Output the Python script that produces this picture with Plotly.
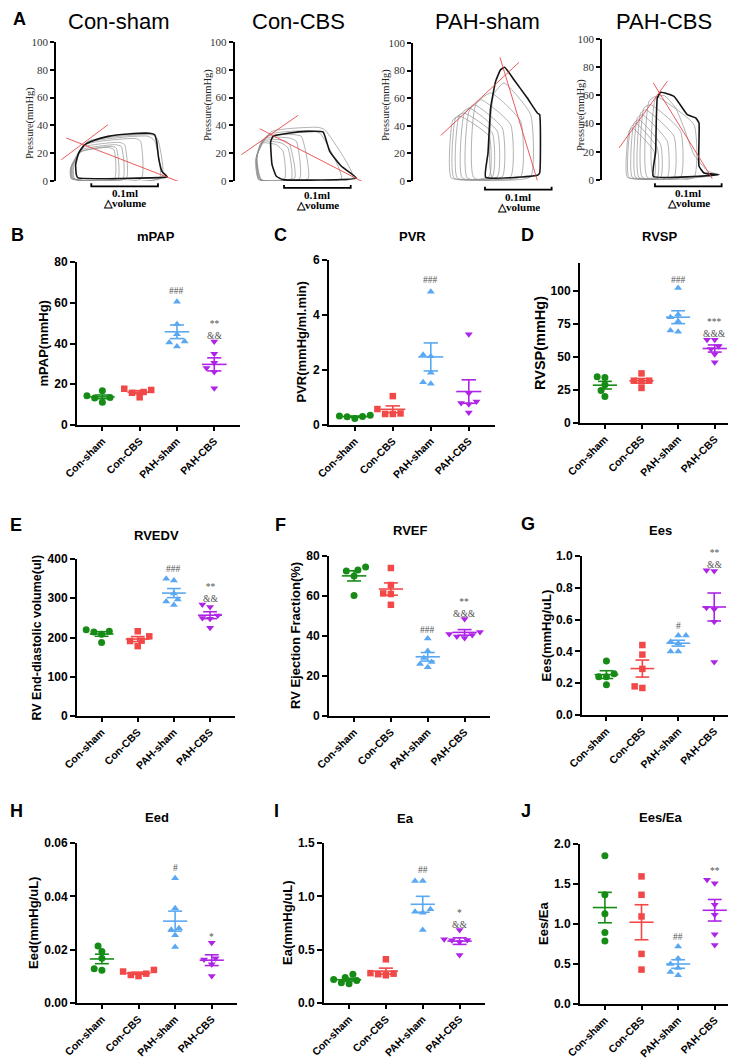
import numpy as np
import plotly.graph_objects as go

W, H = 736, 1058
SANS = "Liberation Sans, Arial, Helvetica, sans-serif"
SERIF = "Liberation Serif, Times New Roman, serif"

# ---------------- group definitions ----------------
GROUPS = ["Con-sham", "Con-CBS", "PAH-sham", "PAH-CBS"]
GROUP_COLORS = ["#168c16", "#f24848", "#5aa8f2", "#ae24e6"]
GROUP_SYMBOLS = ["circle", "square", "triangle-up", "triangle-down"]

# ---------------- panel B-J values (one list per group) ----------------
MPAP = [[14.3, 16.8, 13.5, 13.3, 11.2], [17.8, 16.2, 15.8, 17.2, 13.6],
        [60.5, 49.5, 44.5, 41.0, 40.5, 38.5], [41.0, 35.0, 30.5, 28.0, 26.0, 18.0]]
PVR = [[0.35, 0.33, 0.31, 0.30, 0.24], [1.05, 0.58, 0.42, 0.40, 0.40],
       [4.85, 2.55, 2.50, 1.90, 1.55, 1.50], [3.30, 1.15, 0.85, 0.80, 0.75, 0.45]]
RVSP = [[35, 34.5, 29, 24.5, 20], [37.5, 32, 31.5, 32, 26.5],
        [102, 82, 80, 77, 70, 69], [63, 63, 58, 56, 52, 46]]
RVEDV = [[220, 216, 214, 208, 187], [216, 203, 192, 191, 178],
         [350, 345, 312, 297, 292, 283], [284, 278, 256, 250, 248, 225]]
RVEF = [[74.5, 73, 72.5, 70, 60.3], [74, 65.5, 61.3, 61, 55.6],
        [38.7, 32.5, 29, 27, 26, 24.4], [48.5, 42, 41, 40.5, 39.8, 39]]
EES = [[0.34, 0.26, 0.24, 0.24, 0.19], [0.44, 0.38, 0.29, 0.18, 0.17],
       [0.50, 0.50, 0.46, 0.45, 0.40, 0.40], [0.905, 0.91, 0.675, 0.665, 0.587, 0.333]]
EED = [[0.0214, 0.0193, 0.0168, 0.0128, 0.0123], [0.0124, 0.0118, 0.0110, 0.0105, 0.0101],
       [0.0468, 0.0355, 0.0280, 0.0275, 0.0254, 0.0210], [0.0226, 0.0168, 0.0163, 0.0145, 0.0101]]
EA = [[0.27, 0.24, 0.22, 0.21, 0.19, 0.18], [0.41, 0.28, 0.275, 0.27, 0.26],
      [1.144, 1.144, 0.878, 0.856, 0.847, 0.684], [0.684, 0.597, 0.59, 0.5875, 0.572, 0.45]]
EES_EA = [[1.854, 1.365, 1.127, 0.893, 0.789], [1.595, 1.365, 1.094, 0.626, 0.43],
          [0.72, 0.57, 0.50, 0.45, 0.40, 0.36], [1.51, 1.553, 1.24, 1.115, 0.873, 0.739]]

# significance marks: (group index, stacked text lines, level of the centre of the block)
MPAP_SIG = [(2, ["###"], 65.7), (3, ["**", "&&"], 46.6)]
PVR_SIG = [(2, ["###"], 5.26)]
RVSP_SIG = [(2, ["###"], 108), (3, ["***", "&&&"], 71.5)]
RVEDV_SIG = [(2, ["###"], 374.6), (3, ["**", "&&"], 313)]
RVEF_SIG = [(2, ["###"], 43.2), (3, ["**", "&&&"], 54.0)]
EES_SIG = [(2, ["#"], 0.56), (3, ["**", "&&"], 0.984)]
EED_SIG = [(2, ["#"], 0.0507), (3, ["*"], 0.0247)]
EA_SIG = [(2, ["##"], 1.244), (3, ["*", "&&"], 0.786)]
EES_EA_SIG = [(2, ["##"], 0.843), (3, ["**"], 1.658)]

# ---------------- panel A: pressure-volume loops (volume ul, pressure mmHg) ----------------
PRESSURE_TICKS = [0, 20, 40, 60, 80, 100]
SCALE_BAR_UL = 100  # 0.1 ml

CON_SHAM_DARK = [(32.5, 2.2), (162.5, 2.6), (166.5, 2.9), (158.5, 7), (153.5, 16.5), (150.5, 28.5),
                 (147.5, 33.3), (140, 34.3), (107.5, 33.8), (77.5, 32.1), (55, 29), (41.5, 25.7),
                 (33.5, 20.1), (29, 11.8), (30, 4.6)]
CON_SHAM_GRAY = [
    [(27.5, 1.7), (158.5, 2.2), (152.5, 29.5), (145, 33.1), (47.5, 28.5), (26.5, 11.8)],
    [(26.5, 1.7), (155, 2.2), (147.5, 28.8), (137.5, 32.2), (45, 27.3), (25, 11.8)],
    [(25, 1.7), (127.5, 1.7), (126.5, 28.5), (120, 30.5), (42.5, 26.1), (23.5, 10.6)],
    [(25, 1.7), (105, 1.7), (102.5, 26.1), (95, 27.8), (40, 24.2), (22.5, 10.6)],
    [(23.5, 1.7), (100, 1.7), (97.5, 24.9), (87.5, 26.1), (38.5, 22.5), (22.5, 9.8)],
    [(22.5, 1.7), (92.5, 1.7), (90, 23.7), (82.5, 24.9), (37.5, 21.3), (21.5, 9.4)],
    [(22.5, 1.7), (87.5, 1.7), (86.5, 22.5), (77.5, 24.2), (36.5, 20.9), (21.5, 9.1)],
]
CON_SHAM_ESPVR = [(7.5, 15.3), (77.5, 40.5)]
CON_SHAM_EA = [(15, 30.9), (185, -0.7)]

CON_CBS_DARK = [(72.5, 1), (182.5, 2.2), (160, 10.6), (142.5, 21.3), (132.5, 35.3), (110, 35.7),
                (80, 34.3), (57.5, 32.1), (54, 28.5), (56, 11.8), (62.5, 3.4)]
CON_CBS_GRAY = [
    [(40, 1), (177.5, 2.2), (135, 36.9), (125, 38.6), (55, 35.5), (34, 19)],
    [(40, 1), (160, 1.7), (127.5, 34.5), (110, 36.2), (50, 33.3), (33, 17.7)],
    [(39, 1), (110, 1.7), (100, 32.1), (90, 33.3), (47.5, 32.1), (32.5, 16.5)],
    [(37.5, 1), (97.5, 1.7), (92.5, 28.5), (82.5, 30.9), (45, 30.9), (32.5, 16.5)],
    [(37.5, 1), (90, 2.2), (82.5, 26.1), (75, 29), (42.5, 29.7), (32.5, 15.3)],
    [(36, 1), (85, 1.7), (80, 23.7), (70, 27.3), (41, 28.5), (32.5, 15.3)],
    [(36, 1), (75, 1.7), (72.5, 21.3), (62.5, 26.1), (40, 27.3), (31, 14.1)],
]
CON_CBS_ESPVR = [(10, 18.9), (95, 47.2)]
CON_CBS_EA = [(37.5, 37.6), (192.5, -0.7)]

PAH_SHAM_DARK = [(108.5, 2.7), (186, 4.1), (189.5, 5.8), (189.5, 48.1), (186, 49.3), (171, 60.1),
                 (151, 73.4), (137, 82.4), (131, 80.7), (123.5, 72.2), (116, 52.9), (112, 20)]
PAH_SHAM_GRAY = [
    [(118.5, 2.2), (176, 3.1), (176, 48.1), (136, 71), (120.5, 62.6)],
    [(91, 2.2), (161, 3.1), (161, 43.2), (116, 63.8), (93.5, 55.3)],
    [(81, 2.2), (146, 3.1), (146, 40.8), (101, 58.9), (83.5, 50.5)],
    [(73.5, 2.2), (133.5, 3.1), (133.5, 38.4), (91, 55.3), (76, 48.1)],
    [(66, 2.2), (126, 3.1), (126, 36), (83.5, 52.9), (68.5, 46.9)],
    [(61, 2.2), (118.5, 3.1), (118.5, 34.8), (76, 49.3), (63.5, 45.7)],
    [(57, 2.2), (113.5, 3.1), (113.5, 32.4), (70, 46.9), (59.5, 44.4)],
]
PAH_SHAM_ESPVR = [(41, 32.9), (158.5, 86)]
PAH_SHAM_EA = [(130, 89.6), (186, 0.5)]

PAH_CBS_DARK = [(76.5, 2.6), (175, 3.8), (152.5, 5), (145, 10), (145, 40.4), (140, 44), (127.5, 46.3),
                (107.5, 59.3), (87.5, 62.2), (82.5, 58.2), (80, 20)]
PAH_CBS_GRAY = [
    [(77.5, 1.9), (172.5, 3.8), (157.5, 6.6), (137.5, 18), (122.5, 36.9), (110, 51.1), (92.5, 60), (80, 58.2)],
    [(67.5, 1.9), (137.5, 1.9), (137.5, 39.2), (80, 59.3), (70, 55.8)],
    [(60, 1.9), (117.5, 1.9), (117.5, 34.5), (72.5, 53.4), (62.5, 51.1)],
    [(55, 1.9), (107.5, 1.9), (107.5, 31), (65, 49.9), (57.5, 47.5)],
    [(50, 1.9), (97.5, 1.9), (97.5, 27.4), (60, 46.3), (52.5, 44)],
    [(45, 1.9), (87.5, 1.9), (87.5, 25.1), (55, 42.8), (47.5, 40.4)],
    [(40, 1.9), (82.5, 1.9), (82.5, 22.7), (50, 40.4), (42.5, 36.9)],
    [(37.5, 1.9), (77.5, 1.9), (77.5, 20.3), (45, 36.9), (40, 34.5)],
]
PAH_CBS_ESPVR = [(25, 22.7), (97.5, 70)]
PAH_CBS_EA = [(76.5, 68.8), (165, 0.9)]

# ---------------- figure scaffolding ----------------
fig = go.Figure()
layout = dict(template="none", width=W, height=H,
              margin=dict(l=0, r=0, t=0, b=0, pad=0, autoexpand=False),
              paper_bgcolor="white", plot_bgcolor="rgba(0,0,0,0)", showlegend=False, hovermode=False)
annotations, shapes = [], []
ax_n = [0]


def add_axes(xdom, ydom, xkw, ykw):
    ax_n[0] += 1
    n = ax_n[0]
    s = "" if n == 1 else str(n)
    layout["xaxis" + s] = dict(domain=[xdom[0] / W, xdom[1] / W], anchor="y" + s, fixedrange=True,
                               automargin=False, **xkw)
    layout["yaxis" + s] = dict(domain=[1 - ydom[1] / H, 1 - ydom[0] / H], anchor="x" + s, fixedrange=True,
                               automargin=False, **ykw)
    return "x" + s, "y" + s


def ann_px(text, x, y, size, family=SANS, bold=False, color="black", angle=0, xanchor="center", yanchor="middle"):
    annotations.append(dict(text=f"<b>{text}</b>" if bold else text, x=x / W, y=1 - y / H,
                            xref="paper", yref="paper", showarrow=False, textangle=angle,
                            font=dict(family=family, size=size, color=color),
                            xanchor=xanchor, yanchor=yanchor))


# ---------------- panel A ----------------
PV_VRANGE = 210
pv_specs = [
    dict(title="Con-sham", tx=110, xdom=(48.3, 188.3), ydom=(34, 173), ytx=22, yty=115,
         dark=CON_SHAM_DARK, gray=CON_SHAM_GRAY, espvr=CON_SHAM_ESPVR, ea=CON_SHAM_EA, bar=(52.5, -3.8)),
    dict(title="Con-CBS", tx=290, xdom=(226.7, 366.7), ydom=(34, 173), ytx=200, yty=97,
         dark=CON_CBS_DARK, gray=CON_CBS_GRAY, espvr=CON_CBS_ESPVR, ea=CON_CBS_EA, bar=(74, -5.0)),
    dict(title="PAH-sham", tx=479, xdom=(405.3, 545.3), ydom=(35, 173), ytx=378, yty=97,
         dark=PAH_SHAM_DARK, gray=PAH_SHAM_GRAY, espvr=PAH_SHAM_ESPVR, ea=PAH_SHAM_EA, bar=(107.5, -6.3)),
    dict(title="PAH-CBS", tx=656, xdom=(594.3, 734.3), ydom=(31, 172), ytx=573, yty=107,
         dark=PAH_CBS_DARK, gray=PAH_CBS_GRAY, espvr=PAH_CBS_ESPVR, ea=PAH_CBS_EA, bar=(79, -4.5)),
]

ann_px("A", 3, 11, 18, bold=True, xanchor="left")
for sp in pv_specs:
    xn, yn = add_axes(sp["xdom"], sp["ydom"],
                      dict(range=[0, PV_VRANGE], visible=False),
                      dict(range=[0, 100], tickvals=PRESSURE_TICKS, ticks="outside", ticklen=4, tickwidth=1.5,
                           tickcolor="black", showline=True, linewidth=2, linecolor="black", showgrid=False,
                           zeroline=False, tickfont=dict(family=SERIF, size=11, color="#333")))
    for loop in sp["gray"]:
        pts = loop + [loop[0]]
        fig.add_trace(go.Scatter(x=[p[0] for p in pts], y=[p[1] for p in pts], mode="lines",
                                 line=dict(color="#909090", width=0.7, shape="spline", smoothing=0.5),
                                 xaxis=xn, yaxis=yn, hoverinfo="skip"))
    pts = sp["dark"] + [sp["dark"][0]]
    fig.add_trace(go.Scatter(x=[p[0] for p in pts], y=[p[1] for p in pts], mode="lines",
                             line=dict(color="#151515", width=1.6, shape="spline", smoothing=0.4),
                             xaxis=xn, yaxis=yn, hoverinfo="skip"))
    for seg in (sp["espvr"], sp["ea"]):
        fig.add_trace(go.Scatter(x=[p[0] for p in seg], y=[p[1] for p in seg], mode="lines",
                                 line=dict(color="#e8484a", width=0.9), xaxis=xn, yaxis=yn, hoverinfo="skip"))
    ann_px(sp["title"], sp["tx"], 13, 22)
    ann_px("Pressure(mmHg)", sp["ytx"], sp["yty"], 10.5, family=SERIF, angle=-90, color="#222")

    # scale bar (0.1 ml) mapped through the panel's volume / pressure scales
    x0p, x1p = sp["xdom"]
    y0p, y1p = sp["ydom"]
    bv, bp = sp["bar"]
    bx0 = x0p + bv / PV_VRANGE * (x1p - x0p)
    bx1 = x0p + (bv + SCALE_BAR_UL) / PV_VRANGE * (x1p - x0p)
    by = y1p - bp / 100 * (y1p - y0p)
    shapes.append(dict(type="path", xref="paper", yref="paper",
                       path=f"M {bx0/W},{1-(by-3)/H} L {bx0/W},{1-by/H} L {bx1/W},{1-by/H} L {bx1/W},{1-(by-3)/H}",
                       line=dict(color="black", width=1.8)))
    ann_px("0.1ml", (bx0 + bx1) / 2, by + 7, 11, family=SERIF, bold=True)
    ann_px("△volume", (bx0 + bx1) / 2, by + 17, 11, family=SERIF, bold=True)


# ---------------- panels B-J ----------------
def swarm_offsets(vals, py_per_unit, px_per_cat, diam=7.0):
    order = sorted(range(len(vals)), key=lambda i: vals[i])
    placed, offs = [], [0.0] * len(vals)
    step = diam * 0.55
    cands = [0.0]
    for k in range(1, 8):
        cands += [-k * step, k * step]
    for i in order:
        yp = vals[i] * py_per_unit
        chosen = cands[-1]
        for c in cands:
            if all((c - a) ** 2 + (yp - b) ** 2 >= (diam * 0.92) ** 2 for a, b in placed):
                chosen = c
                break
        placed.append((chosen, yp))
        offs[i] = chosen / px_per_cat
    return offs


XRANGE = [-0.68, 3.69]
dot_specs = [
    dict(vals=MPAP, sig=MPAP_SIG, title="mPAP", ytitle="mPAP(mmHg)", label="B", lab=(9, 227), tpos=(148, 228),
         ytx=35, xdom=(69, 232), ydom=(254, 417), yr=(0, 80), tv=[0, 20, 40, 60, 80], fmt="{:.0f}"),
    dict(vals=PVR, sig=PVR_SIG, title="PVR", ytitle="PVR(mmHg/ml.min)", label="C", lab=(272, 227), tpos=(404, 228),
         ytx=293, xdom=(321, 487), ydom=(252, 417), yr=(0, 6), tv=[0, 2, 4, 6], fmt="{:.0f}"),
    dict(vals=RVSP, sig=RVSP_SIG, title="RVSP", ytitle="RVSP(mmHg)", label="D", lab=(519, 227), tpos=(651, 229),
         ytx=532, xdom=(572, 732), ydom=(255, 415), yr=(0, 121), tv=[0, 25, 50, 75, 100], fmt="{:.0f}", yts=14.5),
    dict(vals=RVEDV, sig=RVEDV_SIG, title="RVEDV", ytitle="RV End-diastolic volume(ul)", label="E", lab=(8, 517),
         tpos=(148, 527), ytx=28, xdom=(69, 227), ydom=(551, 708), yr=(0, 400), tv=[0, 100, 200, 300, 400],
         fmt="{:.0f}", yts=12.5),
    dict(vals=RVEF, sig=RVEF_SIG, title="RVEF", ytitle="RV Ejection Fraction(%)", label="F", lab=(272, 517),
         tpos=(402, 523), ytx=287, xdom=(321, 482), ydom=(548, 708), yr=(0, 80), tv=[0, 20, 40, 60, 80], fmt="{:.0f}"),
    dict(vals=EES, sig=EES_SIG, title="Ees", ytitle="Ees(mmHg/uL)", label="G", lab=(520, 516), tpos=(652, 522),
         ytx=538, xdom=(574, 731), ydom=(548, 707), yr=(0, 1.0), tv=[0, 0.2, 0.4, 0.6, 0.8, 1.0], fmt="{:.1f}"),
    dict(vals=EED, sig=EED_SIG, title="Eed", ytitle="Eed(mmHg/uL)", label="H", lab=(8, 803), tpos=(149, 809),
         ytx=25, xdom=(69, 229), ydom=(835, 995), yr=(0, 0.06), tv=[0, 0.02, 0.04, 0.06], fmt="{:.2f}"),
    dict(vals=EA, sig=EA_SIG, title="Ea", ytitle="Ea(mmHg/uL)", label="I", lab=(268, 803), tpos=(397, 810),
         ytx=279, xdom=(316, 477), ydom=(835, 995), yr=(0, 1.5), tv=[0, 0.5, 1.0, 1.5], fmt="{:.1f}"),
    dict(vals=EES_EA, sig=EES_EA_SIG, title="Ees/Ea", ytitle="Ees/Ea", label="J", lab=(518, 803), tpos=(652, 809),
         ytx=535, xdom=(572, 732), ydom=(836, 996), yr=(0, 2.0), tv=[0, 0.5, 1.0, 1.5, 2.0], fmt="{:.1f}"),
]

for sp in dot_specs:
    xn, yn = add_axes(
        sp["xdom"], sp["ydom"],
        dict(range=XRANGE, tickvals=[0, 1, 2, 3], ticktext=GROUPS, tickangle=-45, ticks="outside", ticklen=4,
             tickwidth=2, tickcolor="black", showline=True, linewidth=2, linecolor="black", showgrid=False,
             zeroline=False, tickfont=dict(family=SANS, size=10.5, color="black", weight="bold")),
        dict(range=list(sp["yr"]), tickvals=sp["tv"], ticktext=[sp["fmt"].format(v) for v in sp["tv"]],
             ticks="outside", ticklen=5, tickwidth=2, tickcolor="black", showline=True, linewidth=2,
             linecolor="black", showgrid=False, zeroline=False,
             tickfont=dict(family=SANS, size=12, color="black", weight="bold")))
    py_per_unit = (sp["ydom"][1] - sp["ydom"][0]) / (sp["yr"][1] - sp["yr"][0])
    px_per_cat = (sp["xdom"][1] - sp["xdom"][0]) / (XRANGE[1] - XRANGE[0])
    for gi, vals in enumerate(sp["vals"]):
        offs = swarm_offsets(vals, py_per_unit, px_per_cat)
        fig.add_trace(go.Scatter(x=[gi + o for o in offs], y=vals, mode="markers", cliponaxis=False,
                                 marker=dict(symbol=GROUP_SYMBOLS[gi], color=GROUP_COLORS[gi],
                                             size=6.5 if GROUP_SYMBOLS[gi] == "square" else 7,
                                             line=dict(width=0)),
                                 xaxis=xn, yaxis=yn, hoverinfo="skip"))
        m = float(np.mean(vals))
        s = float(np.std(vals, ddof=1) / np.sqrt(len(vals)))
        xs = [gi - 0.33, gi + 0.33, None, gi - 0.19, gi + 0.19, None, gi - 0.19, gi + 0.19, None, gi, gi]
        ys = [m, m, None, m + s, m + s, None, m - s, m - s, None, m - s, m + s]
        fig.add_trace(go.Scatter(x=xs, y=ys, mode="lines", line=dict(color=GROUP_COLORS[gi], width=1.6),
                                 xaxis=xn, yaxis=yn, hoverinfo="skip"))
    for gi, lines, lvl in sp["sig"]:
        annotations.append(dict(text="<br>".join(lines), x=gi, y=lvl, xref=xn, yref=yn, showarrow=False,
                                font=dict(family=SERIF, size=9.5, color="#555"),
                                xanchor="center", yanchor="middle"))
    ann_px(sp["label"], sp["lab"][0], sp["lab"][1], 18, bold=True)
    ann_px(sp["title"], sp["tpos"][0], sp["tpos"][1], 13, bold=True)
    ann_px(sp["ytitle"], sp["ytx"], (sp["ydom"][0] + sp["ydom"][1]) / 2, sp.get("yts", 13), bold=True, angle=-90)

layout["annotations"] = annotations
layout["shapes"] = shapes
fig.update_layout(**layout)
fig.write_html("out.html")
